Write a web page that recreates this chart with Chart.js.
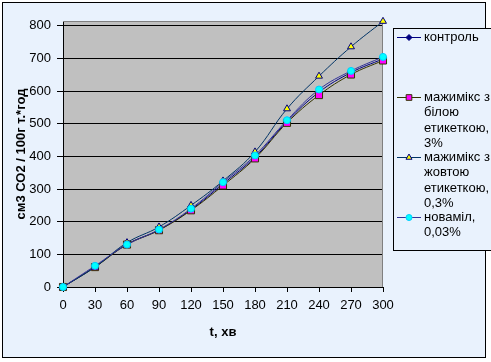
<!DOCTYPE html>
<html>
<head>
<meta charset="utf-8">
<script src="https://cdn.jsdelivr.net/npm/chart.js@4/dist/chart.umd.min.js"></script>
<style>
  html, body { margin: 0; padding: 0; background: #fff; }
  #wrap { width: 491px; height: 362px; }
</style>
</head>
<body>
<div id="wrap"><canvas id="chart" width="491" height="362"></canvas></div>
<script>
// Data
const times = [0, 30, 60, 90, 120, 150, 180, 210, 240, 270, 300];
const control = [0, 62, 131, 175, 237, 316, 398, 507, 597, 657, 699];
const whiteLabel = [0, 61, 130, 174, 235, 311, 394, 503, 588, 651, 694];
const yellowLabel = [0, 61, 136, 184, 250, 325, 414, 546, 646, 736, 814];
const novamil = [0, 65, 130, 176, 240, 321, 403, 511, 605, 662, 705];
const yTicks = [0, 100, 200, 300, 400, 500, 600, 700, 800];
const xTicks = [0, 30, 60, 90, 120, 150, 180, 210, 240, 270, 300];

const legendLines = [
    ['контроль'],
    ['мажимікс з', 'білою', 'етикеткою,', '3%'],
    ['мажимікс з', 'жовтою', 'етикеткою,', '0,3%'],
    ['новамiл,', '0,03%']
];

const FONT = "'Liberation Sans', Arial, sans-serif";
Chart.defaults.font.family = FONT;
Chart.defaults.font.size = 13;
Chart.defaults.color = '#000';

const toPoints = arr => arr.map((v, i) => ({ x: times[i], y: v }));

const series = [
    { label: 'контроль', data: control, line: '#000080', fill: '#000080', stroke: '#000080', style: 'rectRot', r: 3, lr: 3, order: 3 },
    { label: 'мажимікс з білою етикеткою, 3%', data: whiteLabel, line: '#333300', fill: '#FF00FF', stroke: '#333300', style: 'rect', r: 5, lr: 4, order: 2 },
    { label: 'мажимікс з жовтою етикеткою, 0,3%', data: yellowLabel, line: '#003366', fill: '#FFFF00', stroke: '#000080', style: 'triangle', r: 4, lr: 3.5, order: 1 },
    { label: 'новамiл, 0,03%', data: novamil, line: '#333399', fill: '#00FFFF', stroke: '#00CCFF', style: 'circle', r: 3.5, lr: 3, order: 0 }
];

// Frame, plot background, plot border and legend
const decor = {
    id: 'decor',
    beforeDraw(chart) {
        const ctx = chart.ctx;
        const a = chart.chartArea;
        ctx.save();
        ctx.fillStyle = '#fff';
        ctx.fillRect(0, 0, chart.width, chart.height);
        ctx.fillStyle = '#E9F2FD';
        ctx.fillRect(2, 2, 483, 355);
        ctx.strokeStyle = '#000';
        ctx.lineWidth = 1;
        ctx.strokeRect(2.5, 2.5, 483, 355);
        ctx.fillStyle = '#C0C0C0';
        ctx.fillRect(a.left, a.top, a.right - a.left, a.bottom - a.top);
        ctx.restore();
    },
    beforeDatasetsDraw(chart) {
        const ctx = chart.ctx;
        const a = chart.chartArea;
        ctx.save();
        ctx.strokeStyle = '#808080';
        ctx.lineWidth = 1;
        ctx.beginPath();
        ctx.moveTo(a.left, a.top + 0.5);
        ctx.lineTo(a.right - 0.5, a.top + 0.5);
        ctx.lineTo(a.right - 0.5, a.bottom);
        ctx.stroke();
        ctx.restore();
    },
    afterDraw(chart) {
        const ctx = chart.ctx;
        ctx.save();
        ctx.fillStyle = '#E9F2FD';
        ctx.fillRect(393, 28, 110, 222);
        ctx.strokeStyle = '#000';
        ctx.lineWidth = 1;
        ctx.strokeRect(393.5, 28.5, 110, 222);
        ctx.font = '13px ' + FONT;
        ctx.textBaseline = 'middle';
        ctx.textAlign = 'left';
        series.forEach((s, i) => {
            const y0 = 37 + i * 60;
            ctx.strokeStyle = s.line;
            ctx.beginPath();
            ctx.moveTo(397, y0 + 0.5);
            ctx.lineTo(421, y0 + 0.5);
            ctx.stroke();
            ctx.fillStyle = s.fill;
            ctx.strokeStyle = s.stroke;
            Chart.helpers.drawPoint(ctx, { pointStyle: s.style, radius: s.lr, borderWidth: 1 }, 409, y0 + 0.5);
            ctx.fillStyle = '#000';
            legendLines[i].forEach((t, j) => ctx.fillText(t, 424, y0 + j * 15.5));
        });
        ctx.restore();
    }
};

new Chart(document.getElementById('chart'), {
    type: 'line',
    data: {
        datasets: series.map(s => ({
            label: s.label,
            data: toPoints(s.data),
            borderColor: s.line,
            backgroundColor: s.fill,
            borderWidth: 1,
            tension: 0.4,
            pointStyle: s.style,
            pointRadius: s.r,
            pointBackgroundColor: s.fill,
            pointBorderColor: s.stroke,
            pointBorderWidth: 1,
            clip: false,
            order: s.order
        }))
    },
    options: {
        responsive: false,
        animation: false,
        events: [],
        layout: { padding: { left: 0, top: 21, right: 108, bottom: 0 } },
        plugins: { legend: { display: false }, tooltip: { enabled: false } },
        scales: {
            x: {
                type: 'linear',
                min: 0,
                max: 300,
                afterBuildTicks: scale => { scale.ticks = xTicks.map(v => ({ value: v })); },
                afterFit: scale => { scale.height = 75; },
                grid: { drawOnChartArea: false, color: '#000', tickLength: 5 },
                border: { color: '#000' },
                ticks: { padding: 6, maxRotation: 0 },
                title: { display: true, text: 't, хв', font: { weight: 'bold', size: 13 }, padding: { bottom: 22 } }
            },
            y: {
                min: 0,
                max: 815,
                afterBuildTicks: scale => { scale.ticks = yTicks.map(v => ({ value: v })); },
                afterFit: scale => { scale.width = 63; },
                grid: { color: '#000', tickLength: 6 },
                border: { color: '#000' },
                ticks: { padding: 6 },
                title: { display: true, text: 'см3 СО2 / 100г т.*год', font: { weight: 'bold', size: 13 }, padding: { top: 14 } }
            }
        }
    },
    plugins: [decor]
});
</script>
</body>
</html>
